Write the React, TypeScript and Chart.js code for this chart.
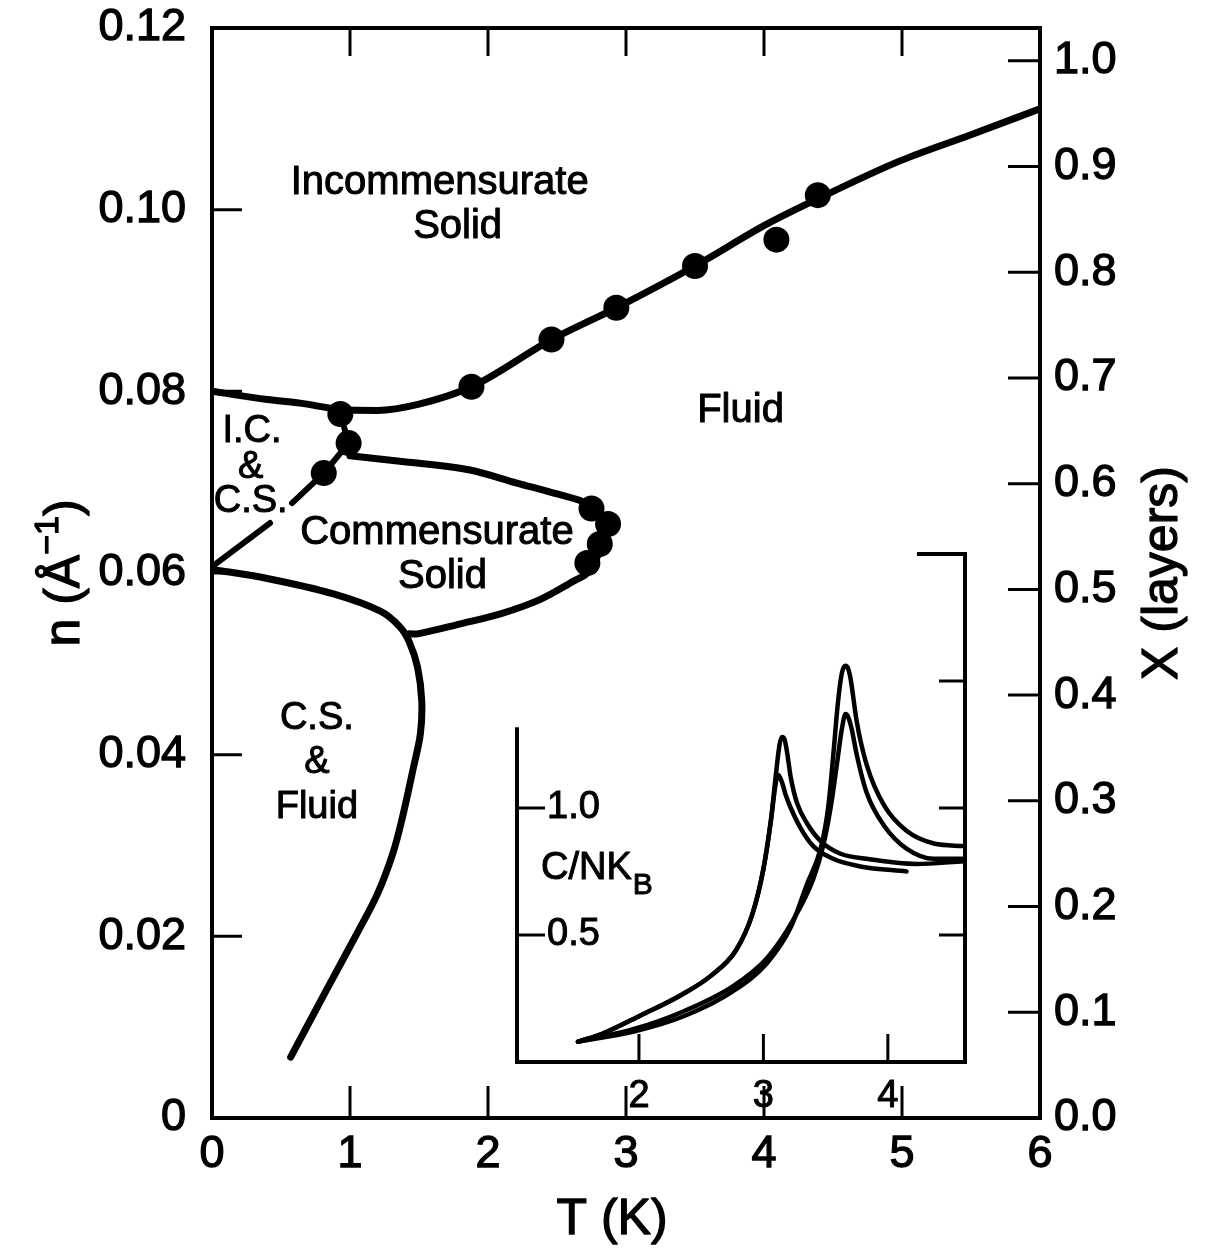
import React, { useEffect, useRef } from 'react';
import { Chart, registerables } from 'chart.js';

Chart.register(...registerables);

const FONT = "'Liberation Sans', Arial, Helvetica, sans-serif";

// ---------- Main axes ticks ----------
const tTicks = [0, 1, 2, 3, 4, 5, 6];
const nTicks = [0, 0.02, 0.04, 0.06, 0.08, 0.1, 0.12];
const layerTicks = [0, 0.1, 0.2, 0.3, 0.4, 0.5, 0.6, 0.7, 0.8, 0.9, 1.0];

// ---------- Phase boundaries: [T (K), n (Å^-1)] ----------
const icBoundary: [number, number][] = [
  [0, 0.08], [0.4, 0.0791], [0.64, 0.0787], [0.93, 0.078], [1.2, 0.0779], [1.5, 0.0786],
  [1.88, 0.0805], [2.46, 0.0857], [2.93, 0.0892], [3.5, 0.0938], [4.02, 0.0984],
  [4.39, 0.1012], [4.99, 0.1054], [5.49, 0.1082], [6.0, 0.1111],
];
const icCsLower: [number, number][] = [[0, 0.0607], [0.42, 0.0655]];
const icCsUpper: [number, number][] = [[0.58, 0.0677], [0.81, 0.071], [0.99, 0.0743], [0.93, 0.0775]];
const csBoundary: [number, number][] = [
  [1.0, 0.0729], [1.36, 0.0723], [1.85, 0.0714], [2.21, 0.0699], [2.5, 0.0687], [2.72, 0.0676],
  [2.83, 0.0657], [2.85, 0.0635], [2.78, 0.0615], [2.72, 0.06], [2.62, 0.0591], [2.38, 0.0571],
  [2.09, 0.0555], [1.8, 0.0544], [1.49, 0.0533], [1.43, 0.0533],
];
const csFluidBoundary: [number, number][] = [
  [0, 0.0604], [0.4, 0.0594], [0.88, 0.0577], [1.22, 0.0558], [1.36, 0.0541], [1.43, 0.0524],
  [1.49, 0.0496], [1.52, 0.0459], [1.51, 0.0423], [1.46, 0.0386], [1.38, 0.0331], [1.31, 0.0291],
  [1.2, 0.0247], [1.05, 0.0203], [0.83, 0.0141], [0.57, 0.0067],
];
const measuredPoints: [number, number][] = [
  [0.93, 0.0775], [0.99, 0.0743], [0.81, 0.071],
  [1.88, 0.0805], [2.46, 0.0857], [2.93, 0.0892], [3.5, 0.0938], [4.09, 0.0967], [4.39, 0.1016],
  [2.75, 0.0671], [2.87, 0.0654], [2.81, 0.0632], [2.72, 0.0611],
];

// Region labels: text, T, n, font size
const regionLabels: [string, number, number, number][] = [
  ['Incommensurate', 1.65, 0.1029, 40], ['Solid', 1.78, 0.0981, 40],
  ['Fluid', 3.83, 0.0778, 40],
  ['I.C.', 0.29, 0.0756, 38], ['&', 0.28, 0.0716, 38], ['C.S.', 0.28, 0.0679, 38],
  ['Commensurate', 1.63, 0.0644, 40], ['Solid', 1.67, 0.0596, 40],
  ['C.S.', 0.76, 0.044, 38], ['&', 0.76, 0.0391, 38], ['Fluid', 0.76, 0.0342, 38],
];

// ---------- Inset: specific heat C/NkB vs T (K) ----------
const insetTTicks = [2, 3, 4];
const insetCTicks = [0.5, 1.0];
const insetRightTicks = [0.5, 1.0, 1.5];
const leftPeakOuter: [number, number][] = [
  [1.51, 0.08], [1.7, 0.11], [2.02, 0.185], [2.34, 0.264], [2.58, 0.34], [2.78, 0.44], [2.91, 0.58],
  [3.0, 0.76], [3.06, 0.95], [3.1, 1.13], [3.13, 1.25], [3.15, 1.28], [3.17, 1.27], [3.19, 1.22],
  [3.22, 1.12], [3.27, 1.02], [3.35, 0.94], [3.46, 0.87], [3.62, 0.82], [3.83, 0.8], [4.23, 0.78], [4.61, 0.79],
];
const leftPeakInner: [number, number][] = [
  [1.51, 0.08], [1.7, 0.11], [2.02, 0.185], [2.34, 0.264], [2.58, 0.34], [2.78, 0.44], [2.91, 0.58],
  [3.0, 0.76], [3.06, 0.95], [3.1, 1.1], [3.12, 1.13], [3.15, 1.1], [3.18, 1.05], [3.22, 1.0], [3.3, 0.92],
  [3.4, 0.85], [3.56, 0.8], [3.78, 0.77], [4.15, 0.75],
];
const rightPeakOuter: [number, number][] = [
  [1.51, 0.08], [1.96, 0.12], [2.36, 0.18], [2.76, 0.28], [3.03, 0.39], [3.22, 0.53], [3.35, 0.7],
  [3.46, 0.84], [3.52, 1.0], [3.56, 1.2], [3.6, 1.42], [3.63, 1.53], [3.66, 1.56], [3.68, 1.55],
  [3.7, 1.51], [3.75, 1.34], [3.83, 1.17], [3.97, 1.01], [4.15, 0.91], [4.37, 0.86], [4.61, 0.85],
];
const rightPeakInner: [number, number][] = [
  [1.51, 0.08], [1.96, 0.13], [2.36, 0.2], [2.76, 0.3], [3.03, 0.41], [3.24, 0.56], [3.4, 0.72],
  [3.48, 0.85], [3.54, 1.0], [3.59, 1.17], [3.63, 1.31], [3.66, 1.37], [3.68, 1.36], [3.71, 1.31],
  [3.75, 1.21], [3.83, 1.06], [3.97, 0.93], [4.15, 0.84], [4.37, 0.8], [4.61, 0.8],
];

const toXY = (pts: [number, number][]) => pts.map(([x, y]) => ({ x, y }));

const curve = (pts: [number, number][], width: number, tension = 0.35, monotone = false) => ({
  data: toXY(pts),
  showLine: true,
  borderColor: '#000',
  borderWidth: width,
  pointRadius: 0,
  tension,
  cubicInterpolationMode: monotone ? 'monotone' : 'default',
  fill: false,
  borderCapStyle: 'round',
  borderJoinStyle: 'round',
});

const noPad = (s: any) => {
  s.paddingTop = 0;
  s.paddingBottom = 0;
  s.paddingLeft = 0;
  s.paddingRight = 0;
};

function heavyText(ctx: CanvasRenderingContext2D, t: string, x: number, y: number) {
  ctx.fillText(t, x, y);
  ctx.strokeText(t, x, y);
}

function drawRich(ctx: CanvasRenderingContext2D, parts: { t: string; size: number; dy: number }[]) {
  let total = 0;
  const widths = parts.map((p) => {
    ctx.font = `${p.size}px ${FONT}`;
    const w = ctx.measureText(p.t).width;
    total += w;
    return w;
  });
  let x = -total / 2;
  ctx.textAlign = 'left';
  parts.forEach((p, i) => {
    ctx.font = `${p.size}px ${FONT}`;
    heavyText(ctx, p.t, x, p.dy);
    x += widths[i];
  });
}

const mainDecor = {
  id: 'mainDecor',
  afterDraw(chart: any) {
    const { ctx, chartArea: a, scales } = chart;
    const sx = scales.x, sy = scales.y, sy2 = scales.y2;
    ctx.save();
    ctx.strokeStyle = '#000';
    ctx.fillStyle = '#000';
    ctx.lineWidth = 4;
    ctx.lineCap = 'square';
    ctx.strokeRect(a.left, a.top, a.right - a.left, a.bottom - a.top);
    ctx.lineWidth = 3;
    ctx.lineCap = 'butt';
    ctx.beginPath();
    tTicks.slice(1, -1).forEach((t) => {
      const px = sx.getPixelForValue(t);
      ctx.moveTo(px, a.bottom);
      ctx.lineTo(px, a.bottom - 32);
      ctx.moveTo(px, a.top);
      ctx.lineTo(px, a.top + 28);
    });
    nTicks.slice(1, -1).forEach((n) => {
      const py = sy.getPixelForValue(n);
      ctx.moveTo(a.left, py);
      ctx.lineTo(a.left + 30, py);
    });
    layerTicks.slice(1).forEach((v) => {
      const py = sy2.getPixelForValue(v);
      ctx.moveTo(a.right, py);
      ctx.lineTo(a.right - 32, py);
    });
    ctx.stroke();

    ctx.lineWidth = 1;
    ctx.lineJoin = 'round';
    ctx.textAlign = 'center';
    ctx.textBaseline = 'middle';
    regionLabels.forEach(([txt, t, n, size]) => {
      ctx.font = `${size}px ${FONT}`;
      heavyText(ctx, txt, sx.getPixelForValue(t), sy.getPixelForValue(n));
    });

    // axis titles
    ctx.lineWidth = 1.3;
    ctx.font = `50px ${FONT}`;
    heavyText(ctx, 'T (K)', 612, 1220);

    ctx.save();
    ctx.translate(1163, (a.top + a.bottom) / 2);
    ctx.rotate(-Math.PI / 2);
    ctx.textAlign = 'center';
    ctx.font = `50px ${FONT}`;
    heavyText(ctx, 'X (layers)', 0, 0);
    ctx.restore();

    ctx.save();
    ctx.translate(65, (a.top + a.bottom) / 2);
    ctx.rotate(-Math.PI / 2);
    drawRich(ctx, [
      { t: 'n (Å', size: 50, dy: 0 },
      { t: '−1', size: 34, dy: -16 },
      { t: ')', size: 50, dy: 0 },
    ]);
    ctx.restore();
    ctx.restore();
  },
};

const INSET_T_MIN = 1.02;
const INSET_T_MAX = 4.62;
const INSET_C_MAX = 2.0;
const INSET_LEFT_TOP = 1.31;
const INSET_STUB_START = 4.25;

const insetDecor = {
  id: 'insetDecor',
  afterDraw(chart: any) {
    const { ctx, scales } = chart;
    const px = (v: number) => scales.x.getPixelForValue(v);
    const py = (v: number) => scales.y.getPixelForValue(v);
    ctx.save();
    ctx.strokeStyle = '#000';
    ctx.fillStyle = '#000';
    ctx.lineWidth = 4;
    ctx.lineCap = 'square';
    ctx.beginPath();
    ctx.moveTo(px(INSET_T_MIN), py(INSET_LEFT_TOP));
    ctx.lineTo(px(INSET_T_MIN), py(0));
    ctx.lineTo(px(INSET_T_MAX), py(0));
    ctx.lineTo(px(INSET_T_MAX), py(INSET_C_MAX));
    ctx.lineTo(px(INSET_STUB_START), py(INSET_C_MAX));
    ctx.stroke();
    ctx.lineWidth = 3;
    ctx.lineCap = 'butt';
    ctx.beginPath();
    insetCTicks.forEach((c) => {
      ctx.moveTo(px(INSET_T_MIN), py(c));
      ctx.lineTo(px(INSET_T_MIN) + 28, py(c));
    });
    insetRightTicks.forEach((c) => {
      ctx.moveTo(px(INSET_T_MAX), py(c));
      ctx.lineTo(px(INSET_T_MAX) - 26, py(c));
    });
    insetTTicks.forEach((t) => {
      ctx.moveTo(px(t), py(0));
      ctx.lineTo(px(t), py(0) - 28);
    });
    ctx.stroke();

    ctx.lineWidth = 1;
    ctx.lineJoin = 'round';
    ctx.textBaseline = 'middle';
    ctx.textAlign = 'left';
    ctx.font = `38px ${FONT}`;
    const lx = px(INSET_T_MIN) + 24;
    const ly = py(0.76);
    heavyText(ctx, 'C/NK', lx, ly);
    const w = ctx.measureText('C/NK').width;
    ctx.font = `30px ${FONT}`;
    heavyText(ctx, 'B', lx + w + 1, ly + 17);
    ctx.restore();
  },
};

export default function App() {
  const mainRef = useRef<HTMLCanvasElement>(null);
  const insetRef = useRef<HTMLCanvasElement>(null);

  useEffect(() => {
    const tickFont = { family: FONT, size: 45 };
    const heavy = { textStrokeColor: '#000', textStrokeWidth: 1.3 };
    const main = new Chart(mainRef.current as HTMLCanvasElement, {
      type: 'scatter',
      data: {
        datasets: [
          { ...curve(icBoundary, 7, 0, true), yAxisID: 'y' },
          { ...curve(icCsLower, 6, 0), yAxisID: 'y' },
          { ...curve(icCsUpper, 6, 0), yAxisID: 'y' },
          { ...curve(csBoundary, 7), yAxisID: 'y' },
          { ...curve(csFluidBoundary, 7), yAxisID: 'y' },
          {
            data: toXY(measuredPoints),
            yAxisID: 'y',
            showLine: false,
            pointRadius: 13,
            pointBackgroundColor: '#000',
            pointBorderWidth: 0,
          },
        ] as any,
      },
      options: {
        responsive: false,
        animation: false,
        devicePixelRatio: 1,
        layout: { padding: { top: 28, left: 0, right: 0, bottom: 0 } },
        plugins: { legend: { display: false }, tooltip: { enabled: false } },
        scales: {
          x: {
            type: 'linear',
            position: 'bottom',
            min: 0,
            max: 6,
            grid: { display: false },
            border: { display: false },
            afterBuildTicks: (s: any) => { s.ticks = tTicks.map((v) => ({ value: v })); },
            afterFit: (s: any) => { s.height = 131; noPad(s); },
            ticks: { font: tickFont, color: '#000', ...heavy, padding: 2, autoSkip: false, maxRotation: 0, callback: (v: any) => String(v) },
          },
          y: {
            type: 'linear',
            position: 'left',
            min: 0,
            max: 0.12,
            grid: { display: false },
            border: { display: false },
            afterBuildTicks: (s: any) => { s.ticks = nTicks.map((v) => ({ value: v })); },
            afterFit: (s: any) => { s.width = 212; noPad(s); },
            ticks: { font: tickFont, color: '#000', ...heavy, padding: 18, autoSkip: false, callback: (v: any) => (Number(v) === 0 ? '0' : Number(v).toFixed(2)) },
          },
          y2: {
            type: 'linear',
            position: 'right',
            min: 0,
            max: 1.031,
            grid: { display: false },
            border: { display: false },
            afterBuildTicks: (s: any) => { s.ticks = layerTicks.map((v) => ({ value: v })); },
            afterFit: (s: any) => { s.width = 167; noPad(s); },
            ticks: { font: tickFont, color: '#000', ...heavy, padding: 6, autoSkip: false, callback: (v: any) => Number(v).toFixed(1) },
          },
        },
      } as any,
      plugins: [mainDecor],
    });

    const inset = new Chart(insetRef.current as HTMLCanvasElement, {
      type: 'scatter',
      data: {
        datasets: [
          curve(leftPeakOuter, 4.5, 0, true),
          curve(leftPeakInner, 4.5, 0, true),
          curve(rightPeakOuter, 4.5, 0, true),
          curve(rightPeakInner, 4.5, 0, true),
        ] as any,
      },
      options: {
        responsive: false,
        animation: false,
        devicePixelRatio: 1,
        layout: { padding: { top: 24, left: 37, right: 35, bottom: 0 } },
        plugins: { legend: { display: false }, tooltip: { enabled: false } },
        scales: {
          x: {
            type: 'linear',
            position: 'bottom',
            min: INSET_T_MIN,
            max: INSET_T_MAX,
            grid: { display: false },
            border: { display: false },
            afterBuildTicks: (s: any) => { s.ticks = insetTTicks.map((v) => ({ value: v })); },
            afterFit: (s: any) => { s.height = 68; noPad(s); },
            ticks: { font: { family: FONT, size: 38 }, color: '#000', textStrokeColor: '#000', textStrokeWidth: 1, padding: 4, autoSkip: false, maxRotation: 0, callback: (v: any) => String(v) },
          },
          y: {
            type: 'linear',
            position: 'left',
            min: 0,
            max: INSET_C_MAX,
            grid: { display: false },
            border: { display: false },
            afterBuildTicks: (s: any) => { s.ticks = insetCTicks.map((v) => ({ value: v })); },
            afterFit: (s: any) => { s.width = 0; noPad(s); },
            ticks: { mirror: true, font: { family: FONT, size: 38 }, color: '#000', textStrokeColor: '#000', textStrokeWidth: 1, padding: 30, autoSkip: false, callback: (v: any) => Number(v).toFixed(1) },
          },
        },
      } as any,
      plugins: [insetDecor],
    });

    return () => {
      main.destroy();
      inset.destroy();
    };
  }, []);

  return (
    <div style={{ position: 'absolute', left: 0, top: 0, width: 1207, height: 1249, background: '#fff', overflow: 'hidden' }}>
      <canvas ref={mainRef} width={1207} height={1249} style={{ position: 'absolute', left: 0, top: 0 }} />
      <canvas ref={insetRef} width={520} height={600} style={{ position: 'absolute', left: 480, top: 530 }} />
    </div>
  );
}
